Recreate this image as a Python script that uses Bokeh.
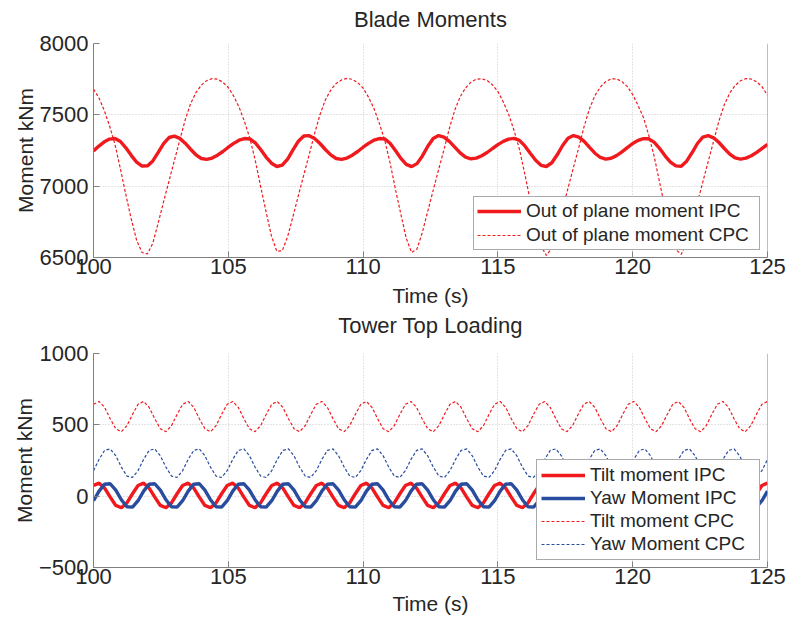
import numpy as np
from bokeh.plotting import figure
from bokeh.layouts import column
from bokeh.models import Range1d, FixedTicker, Span, LinearAxis
from bokeh.embed import file_html
from bokeh.resources import INLINE

# ---------------- data ----------------
x_ticks = [100, 105, 110, 115, 120, 125]
blade_y_ticks = [6500, 7000, 7500, 8000]
tower_y_ticks = [-500, 0, 500, 1000]

# Blade moments, sampled every 0.2 s from 100 s to 125 s
blade_ipc = [
    7247, 7281, 7311, 7330, 7334, 7313, 7269, 7216, 7168, 7141,
    7142, 7177, 7237, 7298, 7341, 7351, 7335, 7301, 7259, 7220,
    7194, 7188, 7197, 7217, 7243, 7273, 7300, 7322, 7334, 7331,
    7304, 7257, 7204, 7161, 7138, 7147, 7190, 7254, 7315, 7352,
    7354, 7334, 7299, 7257, 7219, 7194, 7188, 7197, 7217, 7243,
    7273, 7300, 7322, 7334, 7331, 7301, 7250, 7195, 7153, 7137,
    7158, 7212, 7280, 7334, 7355, 7344, 7314, 7274, 7233, 7203,
    7192, 7197, 7213, 7236, 7264, 7291, 7314, 7330, 7335, 7321,
    7282, 7231, 7181, 7146, 7138, 7164, 7220, 7285, 7336, 7355,
    7344, 7314, 7272, 7231, 7201, 7190, 7196, 7214, 7240, 7270,
    7299, 7321, 7333, 7332, 7307, 7264, 7213, 7169, 7142, 7140,
    7175, 7234, 7299, 7344, 7354, 7339, 7306, 7264, 7225, 7198,
    7190, 7197, 7213, 7237, 7265, 7292,
]
blade_cpc = [
    7680, 7620, 7530, 7420, 7290, 7120, 6940, 6770, 6620, 6535,
    6525, 6600, 6742, 6891, 7036, 7179, 7323, 7464, 7577, 7656,
    7708, 7740, 7754, 7750, 7728, 7692, 7631, 7554, 7453, 7336,
    7181, 6997, 6821, 6651, 6543, 6547, 6646, 6788, 6934, 7079,
    7221, 7368, 7501, 7604, 7674, 7720, 7745, 7755, 7749, 7726,
    7688, 7624, 7546, 7442, 7324, 7164, 6978, 6804, 6634, 6535,
    6560, 6678, 6825, 6971, 7116, 7256, 7405, 7533, 7626, 7689,
    7729, 7750, 7753, 7741, 7710, 7663, 7590, 7503, 7390, 7258,
    7083, 6898, 6728, 6580, 6515, 6565, 6690, 6840, 6985, 7130,
    7270, 7420, 7545, 7635, 7695, 7733, 7752, 7752, 7733, 7698,
    7642, 7566, 7481, 7354, 7206, 7025, 6847, 6677, 6555, 6522,
    6603, 6735, 6884, 7029, 7172, 7315, 7458, 7572, 7653, 7706,
    7739, 7754, 7751, 7731, 7696, 7637,
]

# Tower top loading, sampled evenly from 100 s to 125 s (122 samples)
tilt_ipc = [
    75, 91, 57, -7, -65, -81, -47, 17,
    75, 91, 57, -7, -65, -81, -47, 17,
    75, 91, 57, -7, -65, -81, -47, 17,
    75, 91, 57, -7, -65, -81, -47, 17,
    75, 91, 57, -7, -65, -81, -47, 17,
    75, 91, 57, -7, -65, -81, -47, 17,
    75, 91, 57, -7, -65, -81, -47, 17,
    75, 91, 57, -7, -65, -81, -47, 17,
    75, 91, 57, -7, -65, -81, -47, 17,
    75, 91, 57, -7, -65, -81, -47, 17,
    75, 91, 57, -7, -65, -81, -47, 17,
    75, 91, 57, -7, -65, -81, -47, 17,
    75, 91, 57, -7, -65, -81, -47, 17,
    75, 91, 57, -7, -65, -81, -47, 17,
    75, 91, 57, -7, -65, -81, -47, 17,
    75, 91,
]
yaw_ipc = [
    -32, 35, 84, 87, 42, -25, -74, -77,
    -32, 35, 84, 87, 42, -25, -74, -77,
    -32, 35, 84, 87, 42, -25, -74, -77,
    -32, 35, 84, 87, 42, -25, -74, -77,
    -32, 35, 84, 87, 42, -25, -74, -77,
    -32, 35, 84, 87, 42, -25, -74, -77,
    -32, 35, 84, 87, 42, -25, -74, -77,
    -32, 35, 84, 87, 42, -25, -74, -77,
    -32, 35, 84, 87, 42, -25, -74, -77,
    -32, 35, 84, 87, 42, -25, -74, -77,
    -32, 35, 84, 87, 42, -25, -74, -77,
    -32, 35, 84, 87, 42, -25, -74, -77,
    -32, 35, 84, 87, 42, -25, -74, -77,
    -32, 35, 84, 87, 42, -25, -74, -77,
    -32, 35, 84, 87, 42, -25, -74, -77,
    -32, 35,
]
tilt_cpc = [
    644, 664, 622, 543, 472, 452, 494, 573,
    644, 664, 622, 543, 472, 452, 494, 573,
    644, 664, 622, 543, 472, 452, 494, 573,
    644, 664, 622, 543, 472, 452, 494, 573,
    644, 664, 622, 543, 472, 452, 494, 573,
    644, 664, 622, 543, 472, 452, 494, 573,
    644, 664, 622, 543, 472, 452, 494, 573,
    644, 664, 622, 543, 472, 452, 494, 573,
    644, 664, 622, 543, 472, 452, 494, 573,
    644, 664, 622, 543, 472, 452, 494, 573,
    644, 664, 622, 543, 472, 452, 494, 573,
    644, 664, 622, 543, 472, 452, 494, 573,
    644, 664, 622, 543, 472, 452, 494, 573,
    644, 664, 622, 543, 472, 452, 494, 573,
    644, 664, 622, 543, 472, 452, 494, 573,
    644, 664,
]
yaw_cpc = [
    179, 258, 321, 331, 283, 204, 141, 131,
    179, 258, 321, 331, 283, 204, 141, 131,
    179, 258, 321, 331, 283, 204, 141, 131,
    179, 258, 321, 331, 283, 204, 141, 131,
    179, 258, 321, 331, 283, 204, 141, 131,
    179, 258, 321, 331, 283, 204, 141, 131,
    179, 258, 321, 331, 283, 204, 141, 131,
    179, 258, 321, 331, 283, 204, 141, 131,
    179, 258, 321, 331, 283, 204, 141, 131,
    179, 258, 321, 331, 283, 204, 141, 131,
    179, 258, 321, 331, 283, 204, 141, 131,
    179, 258, 321, 331, 283, 204, 141, 131,
    179, 258, 321, 331, 283, 204, 141, 131,
    179, 258, 321, 331, 283, 204, 141, 131,
    179, 258, 321, 331, 283, 204, 141, 131,
    179, 258,
]

t_blade = np.linspace(100, 125, len(blade_ipc))
t_tower = np.linspace(100, 125, len(tilt_ipc))

# ---------------- styling ----------------
FONT = "Liberation Sans"
TXT = "#262626"
AX = "#808080"
RED = "#f01a1e"
BLUE = "#2a4c9e"


def make_fig(title, yr, yticks, height, top, bottom, title_gap, xlab_standoff):
    p = figure(width=786, height=height, output_backend="svg",
               toolbar_location=None,
               x_range=Range1d(100, 125), y_range=Range1d(*yr),
               min_border_left=93, min_border_right=19,
               min_border_top=top, min_border_bottom=bottom)
    p.background_fill_color = "white"
    p.border_fill_color = "white"
    p.outline_line_color = None
    for ax in (p.xaxis[0], p.yaxis[0]):
        ax.axis_line_color = AX
        ax.major_tick_line_color = AX
        ax.major_tick_in = 6
        ax.major_tick_out = 0
        ax.minor_tick_line_color = None
        ax.major_label_text_font = FONT
        ax.major_label_text_font_size = "22px"
        ax.major_label_text_color = TXT
        ax.axis_label_text_font = FONT
        ax.axis_label_text_font_size = "21px"
        ax.axis_label_text_font_style = "normal"
        ax.axis_label_text_color = TXT
    p.xaxis[0].ticker = FixedTicker(ticks=x_ticks)
    p.yaxis[0].ticker = FixedTicker(ticks=yticks)
    p.xaxis[0].axis_label = "Time (s)"
    p.yaxis[0].axis_label = "Moment kNm"
    p.xaxis[0].major_label_standoff = 1
    p.xaxis[0].axis_label_standoff = xlab_standoff
    p.yaxis[0].major_label_standoff = 5
    p.yaxis[0].axis_label_standoff = 0
    for g in (p.xgrid[0], p.ygrid[0]):
        g.grid_line_color = "#c8c8c8"
        g.grid_line_dash = "1 2"
        g.grid_line_width = 1
    p.add_layout(Span(location=125, dimension="height",
                      line_color=AX, line_width=1))
    # chart title, drawn as the label of a bare axis above the frame
    tax = LinearAxis(ticker=FixedTicker(ticks=[]), axis_label=title,
                     axis_line_color=None, major_tick_line_color=None,
                     minor_tick_line_color=None, major_label_standoff=0,
                     major_tick_in=0, major_tick_out=0,
                     axis_label_standoff=title_gap,
                     axis_label_text_font=FONT,
                     axis_label_text_font_size="22px",
                     axis_label_text_font_style="normal",
                     axis_label_text_color=TXT)
    p.add_layout(tax, "above")
    return p


p1 = make_fig("Blade Moments", (6500, 8000), blade_y_ticks, 309, 43, 51, 12, 7)
p1.line(t_blade, blade_ipc, line_color=RED, line_width=3.4,
        legend_label="Out of plane moment IPC")
p1.line(t_blade, blade_cpc, line_color=RED, line_width=1.2,
        line_dash="3 2", legend_label="Out of plane moment CPC")

p2 = make_fig("Tower Top Loading", (-500, 1000), tower_y_ticks, 314, 42, 56, 16, 5)
p2.line(t_tower, tilt_ipc, line_color=RED, line_width=3.4,
        legend_label="Tilt moment IPC")
p2.line(t_tower, yaw_ipc, line_color=BLUE, line_width=3.4,
        legend_label="Yaw Moment IPC")
p2.line(t_tower, tilt_cpc, line_color=RED, line_width=1.2,
        line_dash="3 2", legend_label="Tilt moment CPC")
p2.line(t_tower, yaw_cpc, line_color=BLUE, line_width=1.2,
        line_dash="3 2", legend_label="Yaw Moment CPC")

for p, lw, sp, pad in ((p1, 230, 2, 3), (p2, 165, 1, 4)):
    lg = p.legend[0]
    lg.location = "bottom_right"
    lg.margin = 7
    lg.padding = pad
    lg.spacing = sp
    lg.glyph_width = 44
    lg.glyph_height = 20
    lg.label_height = 20
    lg.label_width = lw
    lg.label_standoff = 5
    lg.label_text_font = FONT
    lg.label_text_font_size = "19px"
    lg.label_text_color = TXT
    lg.border_line_color = "#555555"
    lg.border_line_width = 1
    lg.background_fill_color = "white"
    lg.background_fill_alpha = 1.0

layout = column(p1, p2, spacing=0)
open("out.html", "w").write(file_html(layout, INLINE))
